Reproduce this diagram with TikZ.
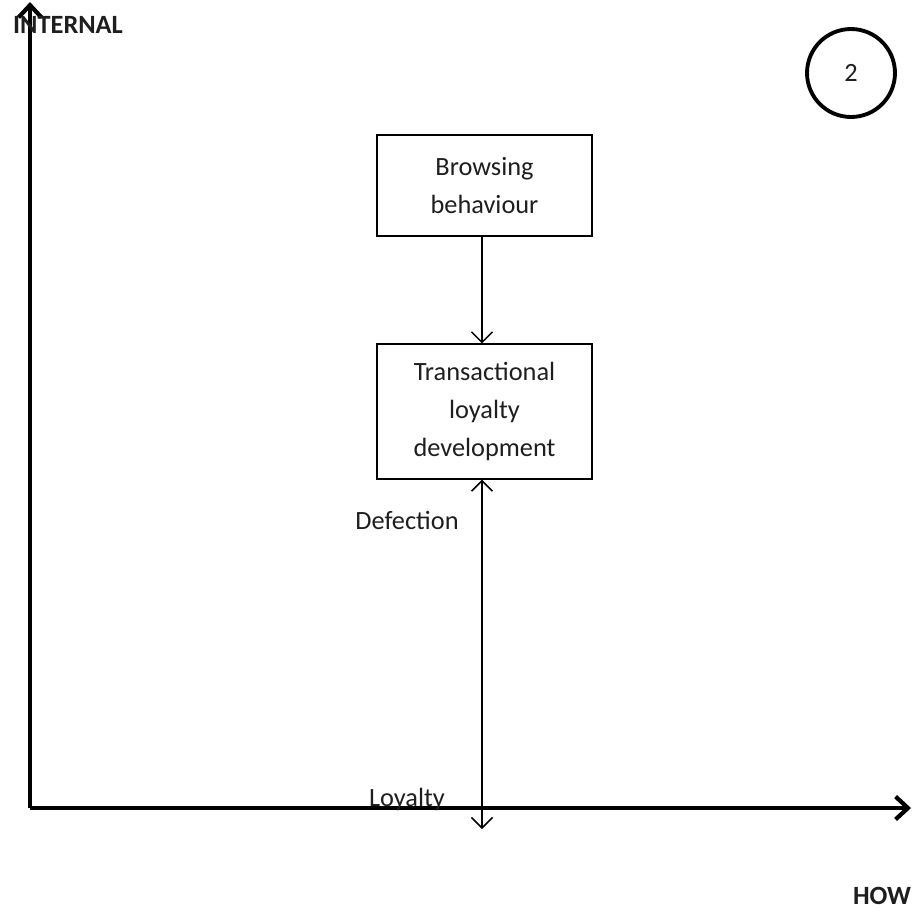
\documentclass[tikz,border=0pt]{standalone}
\usepackage{fontspec}
\setmainfont{Carlito}
\usetikzlibrary{arrows.meta}
\definecolor{ink}{HTML}{1E1E1E}
\begin{document}
\begin{tikzpicture}[x=0.02cm, y=-0.02cm,
  axis/.style={line width=2.4pt, -{Straight Barb[length=7pt,width=13pt,line width=2.4pt]}},
  stage/.style={draw, line width=0.6pt, align=center, text=ink, font=\fontsize{15pt}{21.8pt}\selectfont,
    minimum width=4.3cm, inner sep=2pt},
  link/.style={line width=0.9pt, -{Straight Barb[length=6pt,width=12pt,line width=0.9pt]}},
  lbl/.style={text=ink, font=\fontsize{15pt}{18pt}\selectfont, inner sep=0pt},
  axlbl/.style={text=ink, font=\bfseries\fontsize{15pt}{18pt}\selectfont, inner sep=0pt}]
\useasboundingbox (0,0) rectangle (912,913);

% axes
\coordinate (O) at (30,808);
\coordinate (ytop) at (30,2);
\coordinate (xend) at (911,808);
\draw[axis] (O) -- (ytop);
\draw[axis] (O) -- (xend);
\node[axlbl] (internal) at (68,25) {INTERNAL};
\node[axlbl] (how) at (882,896) {HOW};

% numbered marker
\node[draw, circle, line width=2.2pt, minimum size=1.76cm, text=ink, font=\fontsize{15pt}{18pt}\selectfont] (num) at (851,73) {2};

% stages
\node[stage, minimum height=2.02cm] (browse) at (484.5,185.5) {Browsing\\behaviour};
\node[stage, minimum height=2.7cm] (trans) at (484.5,411.5) {Transactional\\loyalty\\development};
\draw[link] (browse.south -| 482,0) -- (trans.north -| 482,0);

% defection / loyalty arrow
\coordinate (lbot) at (482,829);
\draw[line width=0.9pt, {Straight Barb[length=6pt,width=12pt,line width=0.9pt]}-{Straight Barb[length=6pt,width=12pt,line width=0.9pt]}] (trans.south -| 482,0) -- (lbot);
\node[lbl] (defect) at (407,520) {Defection};
\node[lbl, anchor=base] (loyal) at (407,806) {Loyalty};
\end{tikzpicture}
\end{document}
